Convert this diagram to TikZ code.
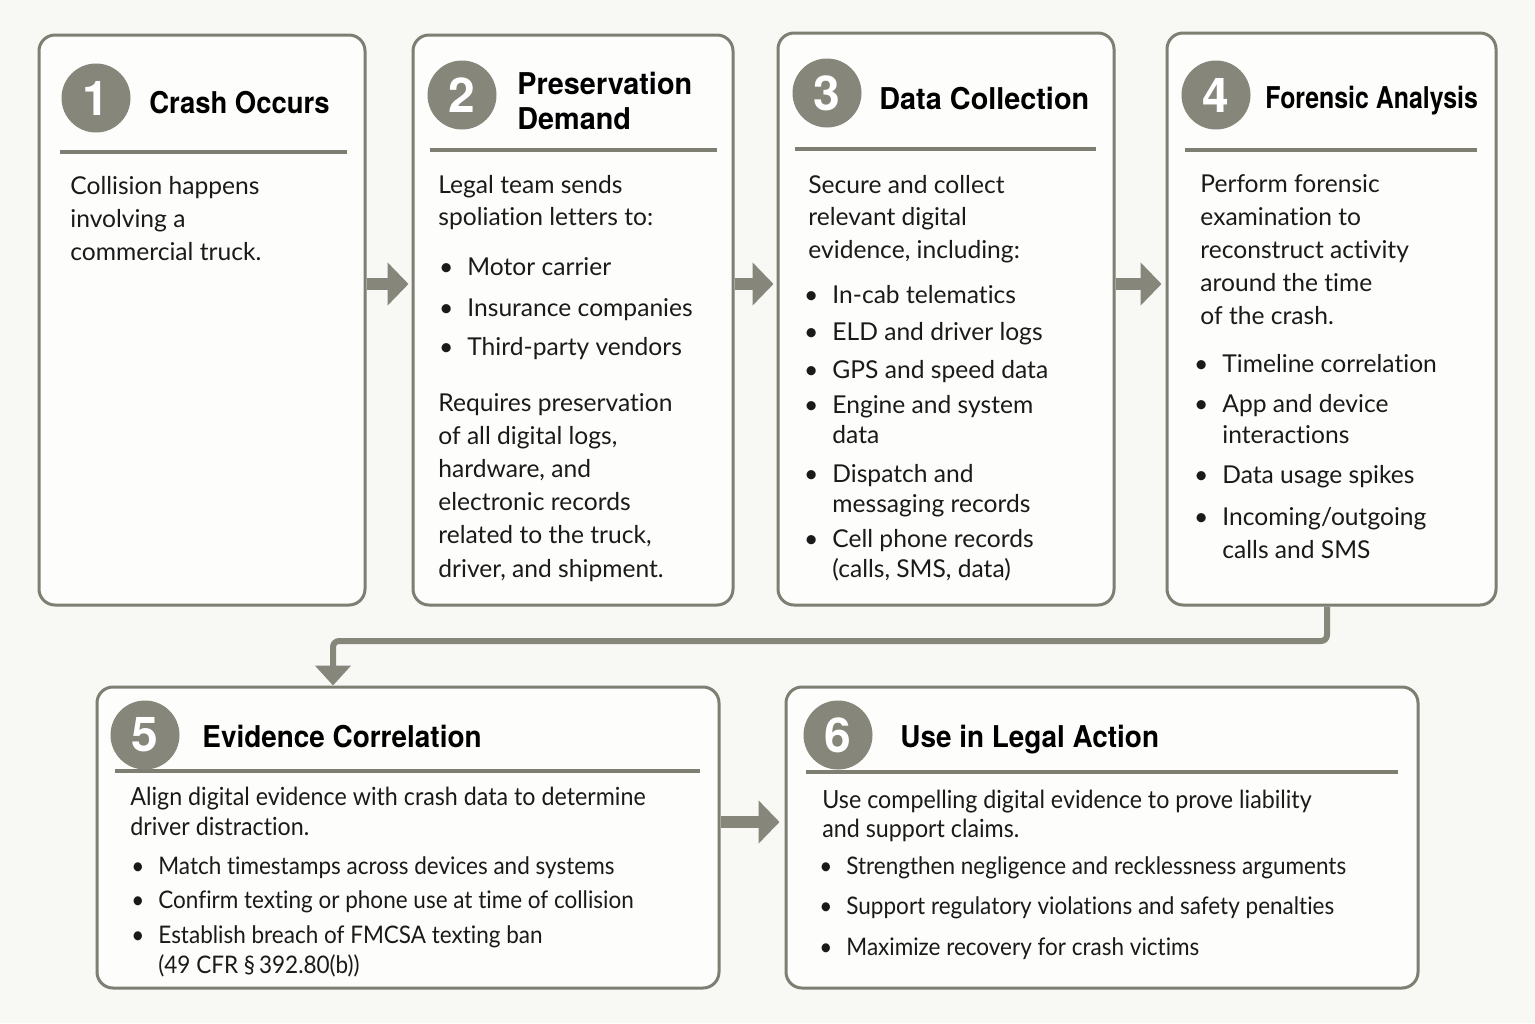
\documentclass[tikz,border=0pt]{standalone}
\usepackage{fontspec}
\usepackage{graphicx}
\usetikzlibrary{arrows.meta,fit}
\setmainfont{Lato}[Ligatures={NoCommon}]
\newfontfamily\tfont{TeX Gyre Heros}
\newfontfamily\cfont{Lato}[FakeStretch=0.93,Ligatures={NoCommon}]
\definecolor{bgc}{HTML}{F8F8F5}
\definecolor{boxfill}{HTML}{FDFDFC}
\definecolor{gr}{HTML}{7E7E73}
\definecolor{cf}{HTML}{86867A}
\definecolor{ink}{HTML}{1A1A1A}
\newcommand\bl{\llap{\textbullet\hspace{7pt}}}
\newcommand\hs[2]{\scalebox{#1}[1]{#2}}
\tikzset{
  box/.style={draw=gr, line width=1.5pt, rounded corners=8pt, fill=boxfill, inner sep=0pt},
  hrule/.style={draw=gr, line width=1.8pt},
  num/.style={circle, fill=cf, minimum size=34.5pt, inner sep=0pt, text=white,
    font=\tfont\bfseries\fontsize{24}{24}\selectfont},
  ttl/.style={anchor=base west, inner sep=0pt, align=left, text=black,
    font=\tfont\bfseries\fontsize{15}{17.5}\selectfont},
  txt/.style={anchor=base west, inner sep=0pt, align=left, text=ink,
    font=\fontsize{12.3}{16.6}\selectfont},
  txtb/.style={txt, font=\fontsize{12.3}{15}\selectfont},
  ctxt/.style={anchor=base west, inner sep=0pt, align=left, text=ink,
    font=\cfont\fontsize{12.5}{15}\selectfont},
  cbul/.style={ctxt, font=\cfont\fontsize{12.1}{15}\selectfont},
  blk/.style={draw=cf, line width=6pt, -{Triangle[width=21pt,length=10.5pt]}},
  conn/.style={draw=cf, line width=3pt, rounded corners=3pt, -{Triangle[width=17.5pt,length=10pt]}}
}
\begin{document}
\begin{tikzpicture}[x=0.5pt,y=-0.5pt]
\fill[bgc] (0,0) rectangle (1535,1023);
\useasboundingbox (0,0) rectangle (1535,1023);

% boxes
\node[box, fit={(39,35) (365,605)}] (b1) {};
\node[box, fit={(413,35) (733,605)}] (b2) {};
\node[box, fit={(778,33) (1114,605)}] (b3) {};
\node[box, fit={(1167,33) (1496,605)}] (b4) {};
\node[box, fit={(97,687) (719,988)}] (b5) {};
\node[box, fit={(786,687) (1418,988)}] (b6) {};

% header rules
\draw[hrule] (60,152) -- (347,152);
\draw[hrule] (430,150) -- (717,150);
\draw[hrule] (795,149) -- (1096,149);
\draw[hrule] (1185,150) -- (1477,150);
\draw[hrule] (115,771) -- (700,771);
\draw[hrule] (806,772) -- (1398,772);

% number circles
\node[num] (n1) at (96,98) {1};
\node[num] (n2) at (462,95) {2};
\node[num] (n3) at (827,93) {3};
\node[num] (n4) at (1216,95) {4};
\node[num] (n5) at (145,735) {5};
\node[num] (n6) at (838,735) {6};

% titles
\node[ttl] (t1) at (149,113) {\hs{0.915}{Crash Occurs}};
\node[ttl] (t2) at (517,129) {\hs{0.96}{Preservation}\\\hs{0.96}{Demand}};
\node[ttl] (t3) at (879,109) {\hs{0.96}{Data Collection}};
\node[ttl] (t4) at (1265,108) {\hs{0.83}{Forensic Analysis}};
\node[ttl] (t5) at (202,747) {\hs{0.93}{Evidence Correlation}};
\node[ttl] (t6) at (900,747) {\hs{0.93}{Use in Legal Action}};

% box 1
\node[txt, font=\fontsize{12.3}{16.4}\selectfont] (p1) at (70,260) {Collision happens\\involving a\\commercial truck.};

% box 2
\node[txt, font=\fontsize{12.3}{16}\selectfont] (p2a) at (438,225) {Legal team sends\\spoliation letters to:};
\node[txt] (p2b) at (467,275) {\bl Motor carrier};
\node[txt] (p2c) at (467,316) {\bl Insurance companies};
\node[txt] (p2d) at (467,355) {\bl Third-party vendors};
\node[txt] (p2e) at (438,577) {Requires preservation\\of all digital logs,\\hardware, and\\electronic records\\related to the truck,\\driver, and shipment.};

% box 3
\node[txt, font=\fontsize{12.3}{16.25}\selectfont] (p3a) at (808,258) {Secure and collect\\relevant digital\\evidence, including:};
\node[txtb] (p3b) at (832,303) {\bl In-cab telematics};
\node[txtb] (p3c) at (832,340) {\bl ELD and driver logs};
\node[txtb] (p3d) at (832,378) {\bl GPS and speed data};
\node[txtb] (p3e) at (832,443) {\bl Engine and system\\data};
\node[txtb] (p3f) at (832,512) {\bl Dispatch and\\messaging records};
\node[txtb] (p3g) at (832,577) {\bl Cell phone records\\(calls, SMS, data)};

% box 4
\node[txt, font=\fontsize{12.3}{16.4}\selectfont] (p4a) at (1200,324) {Perform forensic\\examination to\\reconstruct activity\\around the time\\of the crash.};
\node[txt] (p4b) at (1222,372) {\bl Timeline correlation};
\node[txt, font=\fontsize{12.3}{15.5}\selectfont] (p4c) at (1222,443) {\bl App and device\\interactions};
\node[txt] (p4d) at (1222,483) {\bl Data usage spikes};
\node[txt, font=\fontsize{12.3}{16.5}\selectfont] (p4e) at (1222,558) {\bl Incoming/outgoing\\calls and SMS};

% box 5
\node[ctxt] (p5a) at (130,835) {Align digital evidence with crash data to determine\\driver distraction.};
\node[cbul] (p5b) at (158,874) {\bl Match timestamps across devices and systems};
\node[cbul] (p5c) at (158,908) {\bl Confirm texting or phone use at time of collision};
\node[cbul] (p5d) at (158,973) {\bl Establish breach of FMCSA texting ban\\(49 CFR \S\,392.80(b))};

% box 6
\node[ctxt, font=\cfont\fontsize{12.5}{14.5}\selectfont] (p6a) at (822,837) {Use compelling digital evidence to prove liability\\and support claims.};
\node[cbul] (p6b) at (846,874) {\bl Strengthen negligence and recklessness arguments};
\node[cbul] (p6c) at (846,914) {\bl Support regulatory violations and safety penalties};
\node[cbul] (p6d) at (846,955) {\bl Maximize recovery for crash victims};

% block arrows
\coordinate (ya) at (0,284);
\coordinate (yb) at (0,822);
\draw[blk, shorten >=1.5pt] (b1.east |- ya) -- (b2.west |- ya);
\draw[blk, shorten >=1.5pt] (b2.east |- ya) -- (b3.west |- ya);
\draw[blk, shorten >=2pt] (b3.east |- ya) -- (b4.west |- ya);
\draw[blk, shorten >=2.5pt] (b5.east |- yb) -- (b6.west |- yb);

% connector 4 -> 5
\coordinate (k4) at (1327,0);
\coordinate (k5) at (333,641);
\draw[conn] (b4.south -| k4) |- (k5) -- (b5.north -| k5);
\end{tikzpicture}
\end{document}
